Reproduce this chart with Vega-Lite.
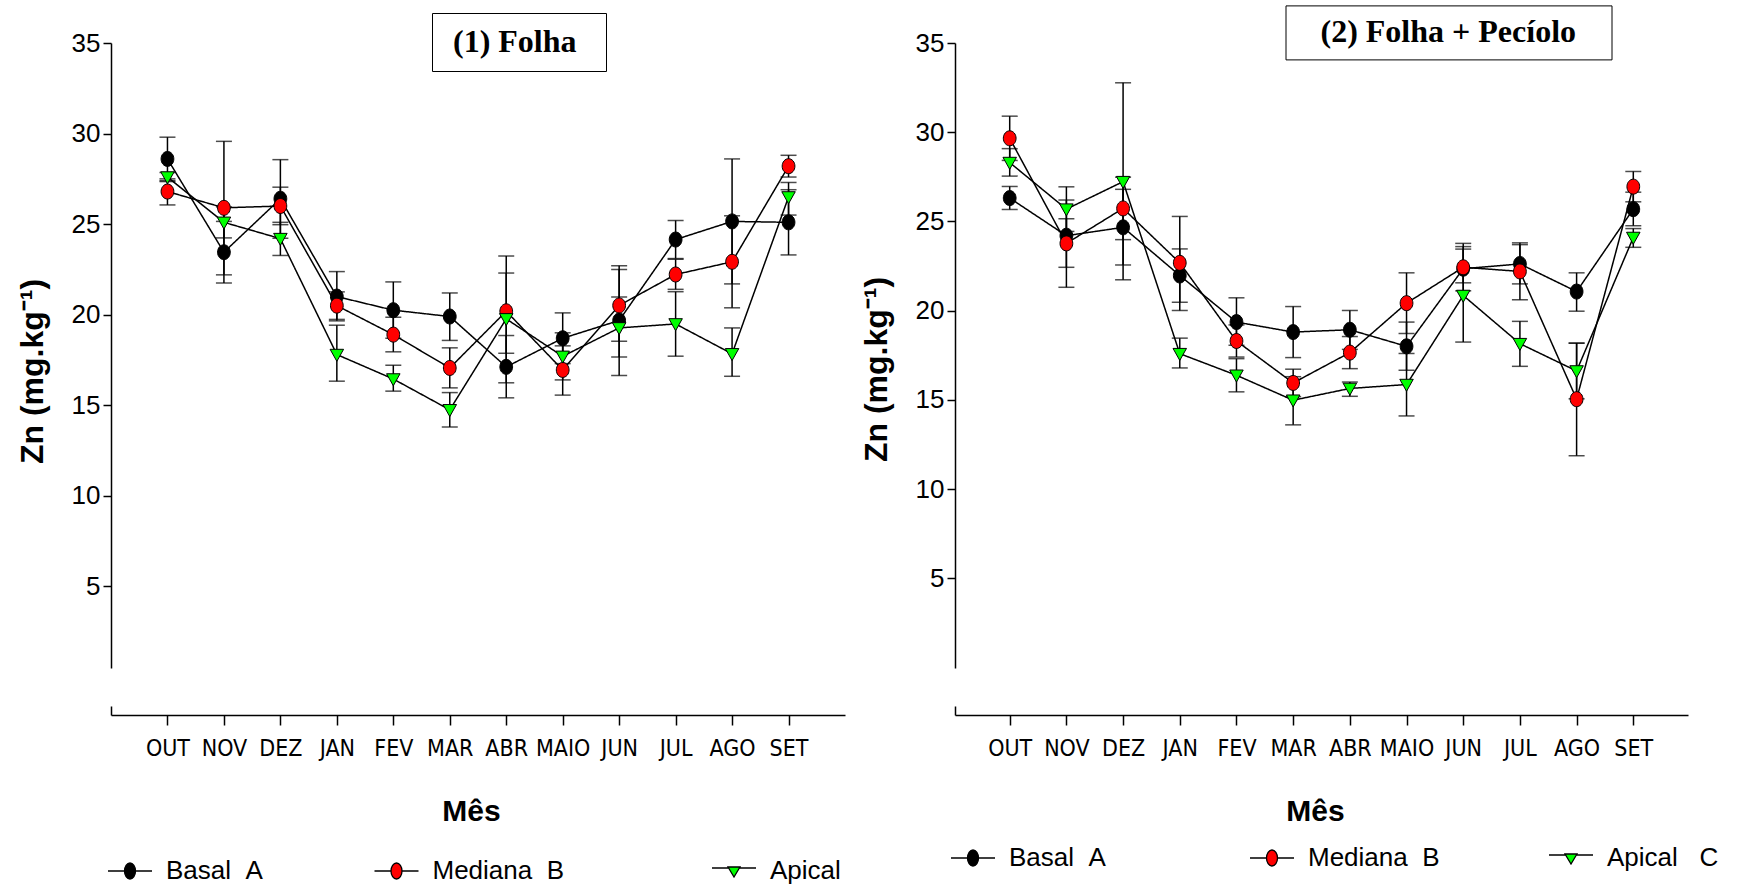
{
  "$schema": "https://vega.github.io/schema/vega-lite/v6.json",
  "background": "white",
  "padding": {"left": 16, "top": 4, "right": 5, "bottom": 0},
  "spacing": 15,
  "config": {
    "view": {"stroke": null},
    "font": "Liberation Sans",
    "axis": {"domainColor": "black", "tickColor": "black", "labelColor": "black", "titleColor": "black", "grid": false, "domainWidth": 1.5, "tickWidth": 1.5}
  },
  "datasets": {
    "folha": [
      {"painel": "(1) Folha", "serie": "Basal A", "mes": "OUT", "media": 28.6, "inf": 27.4, "sup": 29.8},
      {"painel": "(1) Folha", "serie": "Basal A", "mes": "NOV", "media": 23.45, "inf": 21.75, "sup": 25.15},
      {"painel": "(1) Folha", "serie": "Basal A", "mes": "DEZ", "media": 26.4, "inf": 24.22, "sup": 28.56},
      {"painel": "(1) Folha", "serie": "Basal A", "mes": "JAN", "media": 21.0, "inf": 19.66, "sup": 22.38},
      {"painel": "(1) Folha", "serie": "Basal A", "mes": "FEV", "media": 20.25, "inf": 18.7, "sup": 21.81},
      {"painel": "(1) Folha", "serie": "Basal A", "mes": "MAR", "media": 19.9, "inf": 18.58, "sup": 21.2},
      {"painel": "(1) Folha", "serie": "Basal A", "mes": "ABR", "media": 17.12, "inf": 15.41, "sup": 18.85},
      {"painel": "(1) Folha", "serie": "Basal A", "mes": "MAIO", "media": 18.7, "inf": 17.3, "sup": 20.1},
      {"painel": "(1) Folha", "serie": "Basal A", "mes": "JUN", "media": 19.68, "inf": 16.65, "sup": 22.7},
      {"painel": "(1) Folha", "serie": "Basal A", "mes": "JUL", "media": 24.15, "inf": 23.1, "sup": 25.2},
      {"painel": "(1) Folha", "serie": "Basal A", "mes": "AGO", "media": 25.15, "inf": 21.7, "sup": 28.6},
      {"painel": "(1) Folha", "serie": "Basal A", "mes": "SET", "media": 25.1, "inf": 23.3, "sup": 26.9},
      {"painel": "(1) Folha", "serie": "Mediana B", "mes": "OUT", "media": 26.8, "inf": 26.06, "sup": 27.5},
      {"painel": "(1) Folha", "serie": "Mediana B", "mes": "NOV", "media": 25.9, "inf": 22.2, "sup": 29.57},
      {"painel": "(1) Folha", "serie": "Mediana B", "mes": "DEZ", "media": 26.0, "inf": 24.97, "sup": 27.04},
      {"painel": "(1) Folha", "serie": "Mediana B", "mes": "JAN", "media": 20.5, "inf": 19.74, "sup": 21.26},
      {"painel": "(1) Folha", "serie": "Mediana B", "mes": "FEV", "media": 18.9, "inf": 17.95, "sup": 19.86},
      {"painel": "(1) Folha", "serie": "Mediana B", "mes": "MAR", "media": 17.06, "inf": 15.96, "sup": 18.17},
      {"painel": "(1) Folha", "serie": "Mediana B", "mes": "ABR", "media": 20.19, "inf": 17.87, "sup": 22.3},
      {"painel": "(1) Folha", "serie": "Mediana B", "mes": "MAIO", "media": 16.95, "inf": 15.56, "sup": 18.28},
      {"painel": "(1) Folha", "serie": "Mediana B", "mes": "JUN", "media": 20.51, "inf": 18.54, "sup": 22.5},
      {"painel": "(1) Folha", "serie": "Mediana B", "mes": "JUL", "media": 22.22, "inf": 21.4, "sup": 23.06},
      {"painel": "(1) Folha", "serie": "Mediana B", "mes": "AGO", "media": 22.92, "inf": 20.38, "sup": 25.46},
      {"painel": "(1) Folha", "serie": "Mediana B", "mes": "SET", "media": 28.2, "inf": 27.6, "sup": 28.8},
      {"painel": "(1) Folha", "serie": "Apical C", "mes": "OUT", "media": 27.6, "inf": 27.35, "sup": 27.85},
      {"painel": "(1) Folha", "serie": "Apical C", "mes": "NOV", "media": 25.1, "inf": 24.24, "sup": 25.95},
      {"painel": "(1) Folha", "serie": "Apical C", "mes": "DEZ", "media": 24.2, "inf": 23.27, "sup": 25.1},
      {"painel": "(1) Folha", "serie": "Apical C", "mes": "JAN", "media": 17.8, "inf": 16.33, "sup": 19.42},
      {"painel": "(1) Folha", "serie": "Apical C", "mes": "FEV", "media": 16.45, "inf": 15.78, "sup": 17.21},
      {"painel": "(1) Folha", "serie": "Apical C", "mes": "MAR", "media": 14.75, "inf": 13.8, "sup": 15.7},
      {"painel": "(1) Folha", "serie": "Apical C", "mes": "ABR", "media": 19.77, "inf": 16.24, "sup": 23.24},
      {"painel": "(1) Folha", "serie": "Apical C", "mes": "MAIO", "media": 17.7, "inf": 16.4, "sup": 19.0},
      {"painel": "(1) Folha", "serie": "Apical C", "mes": "JUN", "media": 19.27, "inf": 17.67, "sup": 20.98},
      {"painel": "(1) Folha", "serie": "Apical C", "mes": "JUL", "media": 19.49, "inf": 17.71, "sup": 21.27},
      {"painel": "(1) Folha", "serie": "Apical C", "mes": "AGO", "media": 17.84, "inf": 16.6, "sup": 19.27},
      {"painel": "(1) Folha", "serie": "Apical C", "mes": "SET", "media": 26.5, "inf": 25.5, "sup": 27.3}
    ],
    "peciolo": [
      {"painel": "(2) Folha + Pecíolo", "serie": "Basal A", "mes": "OUT", "media": 26.31, "inf": 25.67, "sup": 26.96},
      {"painel": "(2) Folha + Pecíolo", "serie": "Basal A", "mes": "NOV", "media": 24.2, "inf": 22.43, "sup": 25.15},
      {"painel": "(2) Folha + Pecíolo", "serie": "Basal A", "mes": "DEZ", "media": 24.67, "inf": 22.56, "sup": 26.8},
      {"painel": "(2) Folha + Pecíolo", "serie": "Basal A", "mes": "JAN", "media": 21.97, "inf": 20.47, "sup": 23.46},
      {"painel": "(2) Folha + Pecíolo", "serie": "Basal A", "mes": "FEV", "media": 19.36, "inf": 18.06, "sup": 20.72},
      {"painel": "(2) Folha + Pecíolo", "serie": "Basal A", "mes": "MAR", "media": 18.8, "inf": 17.37, "sup": 20.23},
      {"painel": "(2) Folha + Pecíolo", "serie": "Basal A", "mes": "ABR", "media": 18.93, "inf": 17.83, "sup": 20.01},
      {"painel": "(2) Folha + Pecíolo", "serie": "Basal A", "mes": "MAIO", "media": 18.0, "inf": 16.66, "sup": 19.36},
      {"painel": "(2) Folha + Pecíolo", "serie": "Basal A", "mes": "JUN", "media": 22.35, "inf": 21.11, "sup": 23.59},
      {"painel": "(2) Folha + Pecíolo", "serie": "Basal A", "mes": "JUL", "media": 22.62, "inf": 21.5, "sup": 23.7},
      {"painel": "(2) Folha + Pecíolo", "serie": "Basal A", "mes": "AGO", "media": 21.07, "inf": 19.97, "sup": 22.12},
      {"painel": "(2) Folha + Pecíolo", "serie": "Basal A", "mes": "SET", "media": 25.69, "inf": 24.76, "sup": 26.64},
      {"painel": "(2) Folha + Pecíolo", "serie": "Mediana B", "mes": "OUT", "media": 29.66, "inf": 28.42, "sup": 30.9},
      {"painel": "(2) Folha + Pecíolo", "serie": "Mediana B", "mes": "NOV", "media": 23.77, "inf": 21.31, "sup": 26.2},
      {"painel": "(2) Folha + Pecíolo", "serie": "Mediana B", "mes": "DEZ", "media": 25.73, "inf": 23.98, "sup": 27.48},
      {"painel": "(2) Folha + Pecíolo", "serie": "Mediana B", "mes": "JAN", "media": 22.68, "inf": 20.01, "sup": 25.28},
      {"painel": "(2) Folha + Pecíolo", "serie": "Mediana B", "mes": "FEV", "media": 18.3, "inf": 17.4, "sup": 19.2},
      {"painel": "(2) Folha + Pecíolo", "serie": "Mediana B", "mes": "MAR", "media": 15.95, "inf": 15.18, "sup": 16.72},
      {"painel": "(2) Folha + Pecíolo", "serie": "Mediana B", "mes": "ABR", "media": 17.65, "inf": 16.75, "sup": 18.55},
      {"painel": "(2) Folha + Pecíolo", "serie": "Mediana B", "mes": "MAIO", "media": 20.42, "inf": 18.72, "sup": 22.12},
      {"painel": "(2) Folha + Pecíolo", "serie": "Mediana B", "mes": "JUN", "media": 22.43, "inf": 21.56, "sup": 23.77},
      {"painel": "(2) Folha + Pecíolo", "serie": "Mediana B", "mes": "JUL", "media": 22.2, "inf": 20.61, "sup": 23.8},
      {"painel": "(2) Folha + Pecíolo", "serie": "Mediana B", "mes": "AGO", "media": 15.04, "inf": 11.87, "sup": 18.18},
      {"painel": "(2) Folha + Pecíolo", "serie": "Mediana B", "mes": "SET", "media": 26.95, "inf": 26.1, "sup": 27.8},
      {"painel": "(2) Folha + Pecíolo", "serie": "Apical C", "mes": "OUT", "media": 28.3, "inf": 27.54, "sup": 29.08},
      {"painel": "(2) Folha + Pecíolo", "serie": "Apical C", "mes": "NOV", "media": 25.69, "inf": 24.44, "sup": 26.94},
      {"painel": "(2) Folha + Pecíolo", "serie": "Apical C", "mes": "DEZ", "media": 27.23, "inf": 21.73, "sup": 32.77},
      {"painel": "(2) Folha + Pecíolo", "serie": "Apical C", "mes": "JAN", "media": 17.59, "inf": 16.79, "sup": 18.46},
      {"painel": "(2) Folha + Pecíolo", "serie": "Apical C", "mes": "FEV", "media": 16.38, "inf": 15.45, "sup": 17.31},
      {"painel": "(2) Folha + Pecíolo", "serie": "Apical C", "mes": "MAR", "media": 14.98, "inf": 13.6, "sup": 16.3},
      {"painel": "(2) Folha + Pecíolo", "serie": "Apical C", "mes": "ABR", "media": 15.64, "inf": 15.2, "sup": 16.0},
      {"painel": "(2) Folha + Pecíolo", "serie": "Apical C", "mes": "MAIO", "media": 15.86, "inf": 14.1, "sup": 17.6},
      {"painel": "(2) Folha + Pecíolo", "serie": "Apical C", "mes": "JUN", "media": 20.85, "inf": 18.24, "sup": 23.45},
      {"painel": "(2) Folha + Pecíolo", "serie": "Apical C", "mes": "JUL", "media": 18.15, "inf": 16.88, "sup": 19.4},
      {"painel": "(2) Folha + Pecíolo", "serie": "Apical C", "mes": "AGO", "media": 16.62, "inf": 15.06, "sup": 18.18},
      {"painel": "(2) Folha + Pecíolo", "serie": "Apical C", "mes": "SET", "media": 24.1, "inf": 23.55, "sup": 24.6}
    ]
  },
  "hconcat": [
    {
      "width": 734,
      "height": 672,
      "data": {"name": "folha"},
      "encoding": {
        "x": {"field": "mes", "type": "nominal", "sort": ["OUT","NOV","DEZ","JAN","FEV","MAR","ABR","MAIO","JUN","JUL","AGO","SET"], "scale": {"type": "point", "padding": 1.03}, "title": "Mês",
          "axis": {"labelAngle": 0, "labelFont": "DejaVu Sans Condensed, Liberation Sans", "labelFontSize": 23, "labelPadding": 12, "tickSize": 10, "labelOverlap": false, "titleFont": "Liberation Sans", "titleFontSize": 30, "titleFontWeight": "bold", "titleX": 360, "titleY": 96, "titleBaseline": "middle", "titleAlign": "center"}}
      },
      "layer": [
        {
          "mark": {"type": "line", "color": "black", "strokeWidth": 1.5},
          "encoding": {
            "y": {"field": "media", "type": "quantitative", "scale": {"domain": [-2.1, 35], "nice": false, "zero": false}, "title": "Zn (mg.kg⁻¹)",
              "axis": {"values": [5,10,15,20,25,30,35], "domainDash": [9, 38, 800], "tickSize": 8, "labelFontSize": 26, "labelPadding": 3, "titleFontSize": 32, "titleFontWeight": "bold", "titleX": -79, "titleY": 328, "titleAngle": 270, "titleAlign": "center", "titleBaseline": "middle"}},
            "detail": {"field": "serie"},
            "strokeDash": {"field": "painel", "type": "nominal", "scale": {"domain": ["(1) Folha"], "range": [[1, 0]]},
              "legend": {"orient": "none", "legendX": 321, "legendY": -30, "title": null, "strokeColor": "black", "padding": 13, "symbolOpacity": 0, "symbolSize": 1, "symbolStrokeWidth": 0, "labelOffset": -32, "labelFont": "Liberation Serif", "labelFontSize": 32, "labelFontWeight": "bold", "labelColor": "black", "labelLimit": 600, "labelExpr": "'\u200b\u00a0' + datum.label + '\u00a0\u00a0\u200b'", "encode": {"legend": {"strokeWidth": {"value": 2}}}}}
          }
        },
        {
          "mark": {"type": "rule", "color": "black", "strokeWidth": 1.5},
          "encoding": {"y": {"field": "inf", "type": "quantitative", "scale": {"domain": [-2.1, 35], "nice": false, "zero": false}, "title": "Zn (mg.kg⁻¹)"}, "y2": {"field": "sup"}}
        },
        {
          "mark": {"type": "tick", "color": "black", "orient": "horizontal", "size": 16, "thickness": 1.5},
          "encoding": {"y": {"field": "inf", "type": "quantitative", "scale": {"domain": [-2.1, 35], "nice": false, "zero": false}, "title": "Zn (mg.kg⁻¹)"}}
        },
        {
          "mark": {"type": "tick", "color": "black", "orient": "horizontal", "size": 16, "thickness": 1.5},
          "encoding": {"y": {"field": "sup", "type": "quantitative", "scale": {"domain": [-2.1, 35], "nice": false, "zero": false}, "title": "Zn (mg.kg⁻¹)"}}
        },
        {
          "mark": {"type": "point", "filled": true, "stroke": "black", "strokeWidth": 1, "size": 225, "opacity": 1},
          "encoding": {
            "y": {"field": "media", "type": "quantitative", "scale": {"domain": [-2.1, 35], "nice": false, "zero": false}, "title": "Zn (mg.kg⁻¹)"},
            "fill": {"field": "serie", "type": "nominal", "scale": {"domain": ["Basal A", "Mediana B", "Apical C"], "range": ["#000000", "#ff0000", "#00ff00"]}, "legend": null},
            "shape": {"field": "serie", "type": "nominal", "scale": {"domain": ["Basal A", "Mediana B", "Apical C"], "range": ["M0.85,0A0.85,1 0 1,1 -0.85,0A0.85,1 0 1,1 0.85,0Z", "M0.85,0A0.85,1 0 1,1 -0.85,0A0.85,1 0 1,1 0.85,0Z", "M-0.9,-0.7H0.9L0,0.9Z"]}, "legend": null}
          }
        },
        {
          "transform": [{"filter": "false"}],
          "mark": {"type": "point", "filled": false, "strokeWidth": 1.3, "opacity": 1},
          "encoding": {
            "y": {"field": "media", "type": "quantitative", "scale": {"domain": [-2.1, 35], "nice": false, "zero": false}, "title": "Zn (mg.kg⁻¹)"},
            "fill": {"field": "serie", "type": "nominal", "scale": {"domain": ["Basal A", "Mediana B", "Apical C"], "range": ["#000000", "#ff0000", "#00ff00"]},
              "legend": {"orient": "none", "legendX": 6, "legendY": 815, "direction": "horizontal", "title": null, "padding": 0, "columnPadding": 108.5, "gridAlign": "each", "labelFont": "Liberation Sans", "labelFontSize": 26, "labelColor": "black", "labelOffset": 23, "labelLimit": 400, "symbolSize": 400, "symbolStrokeColor": "black", "symbolStrokeWidth": 1.3,
                "labelExpr": "datum.value === 'Basal A' ? 'Basal\u00a0\u00a0A' : datum.value === 'Mediana B' ? 'Mediana\u00a0\u00a0B\u00a0\u00a0\u00a0\u00a0\u00a0\u200b' : 'Apical'"}},
            "stroke": {"field": "serie", "type": "nominal", "scale": {"domain": ["Basal A", "Mediana B", "Apical C"], "range": ["#000000", "#000000", "#000000"]},
              "legend": {"orient": "none", "legendX": 6, "legendY": 815, "direction": "horizontal", "title": null, "padding": 0, "columnPadding": 108.5, "gridAlign": "each", "labelFont": "Liberation Sans", "labelFontSize": 26, "labelColor": "black", "labelOffset": 23, "labelLimit": 400, "symbolSize": 400, "symbolStrokeColor": "black", "symbolStrokeWidth": 1.3,
                "labelExpr": "datum.value === 'Basal A' ? 'Basal\u00a0\u00a0A' : datum.value === 'Mediana B' ? 'Mediana\u00a0\u00a0B\u00a0\u00a0\u00a0\u00a0\u00a0\u200b' : 'Apical'"}},
            "shape": {"field": "serie", "type": "nominal", "scale": {"domain": ["Basal A", "Mediana B", "Apical C"], "range": ["M-2.2,0H-0.55M0.55,0H2.2M0.55,0A0.55,0.8 0 1,1 -0.55,0A0.55,0.8 0 1,1 0.55,0Z", "M-2.2,0H-0.55M0.55,0H2.2M0.55,0A0.55,0.8 0 1,1 -0.55,0A0.55,0.8 0 1,1 0.55,0Z", "M-2.2,-0.3H-0.54M0.54,-0.3H2.2M-0.6,-0.4H0.6L0,0.6Z"]},
              "legend": {"orient": "none", "legendX": 6, "legendY": 815, "direction": "horizontal", "title": null, "padding": 0, "columnPadding": 108.5, "gridAlign": "each", "labelFont": "Liberation Sans", "labelFontSize": 26, "labelColor": "black", "labelOffset": 23, "labelLimit": 400, "symbolSize": 400, "symbolStrokeColor": "black", "symbolStrokeWidth": 1.3,
                "labelExpr": "datum.value === 'Basal A' ? 'Basal\u00a0\u00a0A' : datum.value === 'Mediana B' ? 'Mediana\u00a0\u00a0B\u00a0\u00a0\u00a0\u00a0\u00a0\u200b' : 'Apical'"}}
          }
        }
      ],
      "resolve": {"scale": {"fill": "independent", "shape": "independent", "stroke": "independent"}, "legend": {"fill": "independent", "shape": "independent", "stroke": "independent"}}
    },
    {
      "width": 733,
      "height": 672,
      "data": {"name": "peciolo"},
      "encoding": {
        "x": {"field": "mes", "type": "nominal", "sort": ["OUT","NOV","DEZ","JAN","FEV","MAR","ABR","MAIO","JUN","JUL","AGO","SET"], "scale": {"type": "point", "padding": 0.965}, "title": "Mês",
          "axis": {"labelAngle": 0, "labelFont": "DejaVu Sans Condensed, Liberation Sans", "labelFontSize": 23, "labelPadding": 12, "tickSize": 10, "labelOverlap": false, "titleFont": "Liberation Sans", "titleFontSize": 30, "titleFontWeight": "bold", "titleX": 360, "titleY": 96, "titleBaseline": "middle", "titleAlign": "center"}}
      },
      "layer": [
        {
          "mark": {"type": "line", "color": "black", "strokeWidth": 1.5},
          "encoding": {
            "y": {"field": "media", "type": "quantitative", "scale": {"domain": [-2.66, 35], "nice": false, "zero": false}, "title": "Zn (mg.kg⁻¹)",
              "axis": {"values": [5,10,15,20,25,30,35], "domainDash": [9, 38, 800], "tickSize": 8, "labelFontSize": 26, "labelPadding": 3, "titleFontSize": 32, "titleFontWeight": "bold", "titleX": -78.5, "titleY": 326, "titleAngle": 270, "titleAlign": "center", "titleBaseline": "middle"}},
            "detail": {"field": "serie"},
            "strokeDash": {"field": "painel", "type": "nominal", "scale": {"domain": ["(2) Folha + Pecíolo"], "range": [[1, 0]]},
              "legend": {"orient": "none", "legendX": 330.5, "legendY": -37.6, "title": null, "strokeColor": "black", "padding": 11, "symbolOpacity": 0, "symbolSize": 1, "symbolStrokeWidth": 0, "labelOffset": -32, "labelFont": "Liberation Serif", "labelFontSize": 32, "labelFontWeight": "bold", "labelColor": "black", "labelLimit": 600, "labelExpr": "'\u200b\u00a0\u00a0\u00a0' + datum.label + '\u00a0\u00a0\u00a0\u200b'", "encode": {"legend": {"strokeWidth": {"value": 2}}}}}
          }
        },
        {
          "mark": {"type": "rule", "color": "black", "strokeWidth": 1.5},
          "encoding": {"y": {"field": "inf", "type": "quantitative", "scale": {"domain": [-2.66, 35], "nice": false, "zero": false}, "title": "Zn (mg.kg⁻¹)"}, "y2": {"field": "sup"}}
        },
        {
          "mark": {"type": "tick", "color": "black", "orient": "horizontal", "size": 16, "thickness": 1.5},
          "encoding": {"y": {"field": "inf", "type": "quantitative", "scale": {"domain": [-2.66, 35], "nice": false, "zero": false}, "title": "Zn (mg.kg⁻¹)"}}
        },
        {
          "mark": {"type": "tick", "color": "black", "orient": "horizontal", "size": 16, "thickness": 1.5},
          "encoding": {"y": {"field": "sup", "type": "quantitative", "scale": {"domain": [-2.66, 35], "nice": false, "zero": false}, "title": "Zn (mg.kg⁻¹)"}}
        },
        {
          "mark": {"type": "point", "filled": true, "stroke": "black", "strokeWidth": 1, "size": 225, "opacity": 1},
          "encoding": {
            "y": {"field": "media", "type": "quantitative", "scale": {"domain": [-2.66, 35], "nice": false, "zero": false}, "title": "Zn (mg.kg⁻¹)"},
            "fill": {"field": "serie", "type": "nominal", "scale": {"domain": ["Basal A", "Mediana B", "Apical C"], "range": ["#000000", "#ff0000", "#00ff00"]}, "legend": null},
            "shape": {"field": "serie", "type": "nominal", "scale": {"domain": ["Basal A", "Mediana B", "Apical C"], "range": ["M0.85,0A0.85,1 0 1,1 -0.85,0A0.85,1 0 1,1 0.85,0Z", "M0.85,0A0.85,1 0 1,1 -0.85,0A0.85,1 0 1,1 0.85,0Z", "M-0.9,-0.7H0.9L0,0.9Z"]}, "legend": null}
          }
        },
        {
          "transform": [{"filter": "false"}],
          "mark": {"type": "point", "filled": false, "strokeWidth": 1.3, "opacity": 1},
          "encoding": {
            "y": {"field": "media", "type": "quantitative", "scale": {"domain": [-2.66, 35], "nice": false, "zero": false}, "title": "Zn (mg.kg⁻¹)"},
            "fill": {"field": "serie", "type": "nominal", "scale": {"domain": ["Basal A", "Mediana B", "Apical C"], "range": ["#000000", "#ff0000", "#00ff00"]},
              "legend": {"orient": "none", "legendX": 5, "legendY": 802, "direction": "horizontal", "title": null, "padding": 0, "columnPadding": 106, "gridAlign": "all", "labelFont": "Liberation Sans", "labelFontSize": 26, "labelColor": "black", "labelOffset": 23, "labelLimit": 400, "symbolSize": 400, "symbolStrokeColor": "black", "symbolStrokeWidth": 1.3,
                "labelExpr": "datum.value === 'Basal A' ? 'Basal\u00a0\u00a0A' : datum.value === 'Mediana B' ? 'Mediana\u00a0\u00a0B' : 'Apical\u00a0\u00a0\u00a0C'"}},
            "stroke": {"field": "serie", "type": "nominal", "scale": {"domain": ["Basal A", "Mediana B", "Apical C"], "range": ["#000000", "#000000", "#000000"]},
              "legend": {"orient": "none", "legendX": 5, "legendY": 802, "direction": "horizontal", "title": null, "padding": 0, "columnPadding": 106, "gridAlign": "all", "labelFont": "Liberation Sans", "labelFontSize": 26, "labelColor": "black", "labelOffset": 23, "labelLimit": 400, "symbolSize": 400, "symbolStrokeColor": "black", "symbolStrokeWidth": 1.3,
                "labelExpr": "datum.value === 'Basal A' ? 'Basal\u00a0\u00a0A' : datum.value === 'Mediana B' ? 'Mediana\u00a0\u00a0B' : 'Apical\u00a0\u00a0\u00a0C'"}},
            "shape": {"field": "serie", "type": "nominal", "scale": {"domain": ["Basal A", "Mediana B", "Apical C"], "range": ["M-2.2,0H-0.55M0.55,0H2.2M0.55,0A0.55,0.8 0 1,1 -0.55,0A0.55,0.8 0 1,1 0.55,0Z", "M-2.2,0H-0.55M0.55,0H2.2M0.55,0A0.55,0.8 0 1,1 -0.55,0A0.55,0.8 0 1,1 0.55,0Z", "M-2.2,-0.3H-0.54M0.54,-0.3H2.2M-0.6,-0.4H0.6L0,0.6Z"]},
              "legend": {"orient": "none", "legendX": 5, "legendY": 802, "direction": "horizontal", "title": null, "padding": 0, "columnPadding": 106, "gridAlign": "all", "labelFont": "Liberation Sans", "labelFontSize": 26, "labelColor": "black", "labelOffset": 23, "labelLimit": 400, "symbolSize": 400, "symbolStrokeColor": "black", "symbolStrokeWidth": 1.3,
                "labelExpr": "datum.value === 'Basal A' ? 'Basal\u00a0\u00a0A' : datum.value === 'Mediana B' ? 'Mediana\u00a0\u00a0B' : 'Apical\u00a0\u00a0\u00a0C'"}}
          }
        }
      ],
      "resolve": {"scale": {"fill": "independent", "shape": "independent", "stroke": "independent"}, "legend": {"fill": "independent", "shape": "independent", "stroke": "independent"}}
    }
  ],
  "resolve": {
    "scale": {"x": "independent", "y": "independent", "fill": "independent", "shape": "independent", "strokeDash": "independent", "stroke": "independent"},
    "legend": {"fill": "independent", "strokeDash": "independent", "shape": "independent", "stroke": "independent"}
  }
}
